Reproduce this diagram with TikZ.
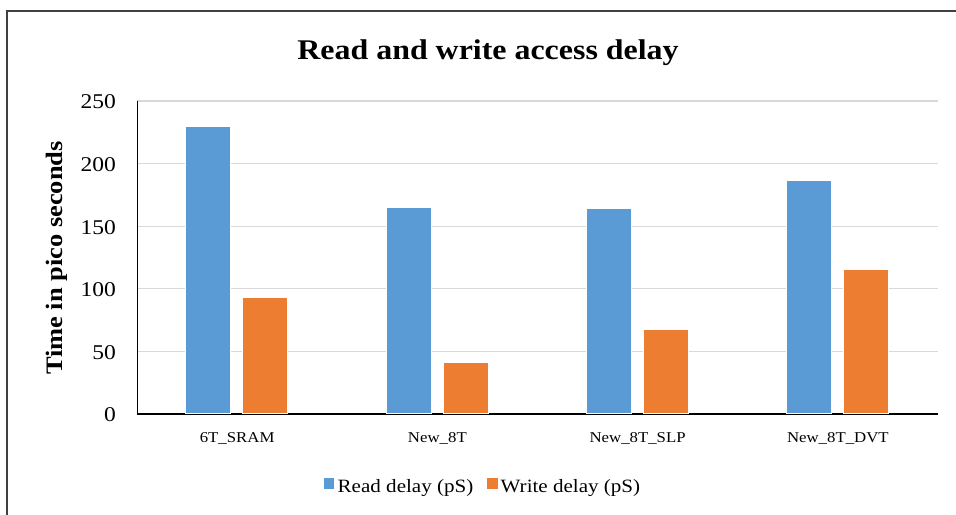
\documentclass[tikz,border=0pt]{standalone}
\usepackage{fontspec}
\setmainfont{Liberation Serif}[FakeStretch=1.12]
\definecolor{barblue}{HTML}{5B9BD5}
\definecolor{barorange}{HTML}{ED7D31}
\definecolor{gridgray}{HTML}{D9D9D9}
\definecolor{framegray}{HTML}{404040}
\begin{document}
\begin{tikzpicture}[x=1bp,y=-1bp,
  grid/.style={draw=gridgray,line width=1.3bp},
  tick/.style={anchor=east,inner sep=0pt,font=\fontsize{21bp}{23bp}\selectfont},
  cat/.style={anchor=base,inner sep=0pt,font=\fontsize{15bp}{17bp}\selectfont},
  leg/.style={anchor=base west,inner sep=0pt,font=\fontsize{18.8bp}{20bp}\selectfont},
  rbar/.style={fill=barblue,draw=white,line width=0.5bp},
  wbar/.style={fill=barorange,draw=white,line width=0.5bp}]
\useasboundingbox (0,0) rectangle (956,515);
\fill[white] (0,0) rectangle (956,515);
% frame
\draw[framegray,line width=1.6bp] (7,515) -- (7,11) -- (956,11);
% title
\node[anchor=base,inner sep=0pt,font=\bfseries\fontsize{28.5bp}{30bp}\selectfont] (title) at (488,59.3) {Read and write access delay};
% gridlines and tick labels
\foreach \v/\lab in {0/0,50/50,100/100,150/150,200/200,250/250}{
  \pgfmathsetmacro{\yy}{414-1.252*\v}
  \ifnum\v>0 \draw[grid] (137,\yy) -- (938,\yy);\fi
  \node[tick] (t\v) at (116,\yy+1) {\lab};
}
% axes
\draw[black,line width=1bp] (137,101) -- (137,414);
\draw[black,line width=1.6bp] (137,414) -- (938,414);
% bars
\foreach \i/\r/\w/\name in {0/230/93/6T\_SRAM,1/165.5/41/New\_8T,2/164.5/68/New\_8T\_SLP,3/187/116/New\_8T\_DVT}{
  \pgfmathsetmacro{\c}{137+200.25*(\i+0.5)}
  \pgfmathsetmacro{\ry}{414-1.252*\r}
  \pgfmathsetmacro{\wy}{414-1.252*\w}
  \path[rbar] (\c-51.5,413.2) rectangle (\c-6.5,\ry);
  \path[wbar] (\c+5.5,413.2) rectangle (\c+50.5,\wy);
  \node[cat] (c\i) at (\c,442.3) {\name};
}
% y-axis title
\node[rotate=90,inner sep=0pt,font=\bfseries\fontsize{23.6bp}{25bp}\selectfont] (ytitle) at (57,258) {Time in pico seconds};
% legend
\fill[barblue] (323.5,478) rectangle (334,489);
\node[leg] (lr) at (337.5,492) {Read delay (pS)};
\fill[barorange] (487,478) rectangle (497.5,489);
\node[leg] (lw) at (500.5,492) {Write delay (pS)};
\end{tikzpicture}
\end{document}
